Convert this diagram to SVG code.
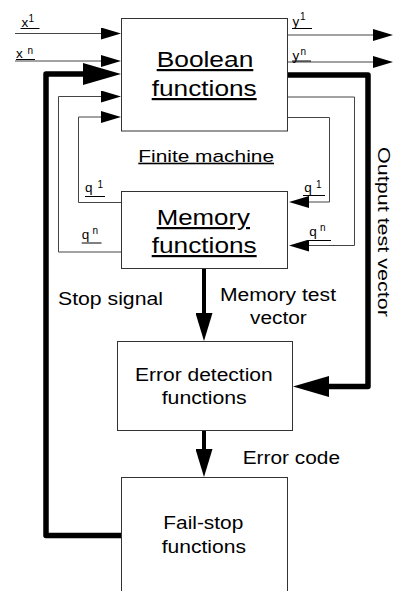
<svg xmlns="http://www.w3.org/2000/svg" width="393" height="591" viewBox="0 0 393 591">
<style>
.box{fill:#fff;stroke:#333;stroke-width:1}
.thin{fill:none;stroke:#444;stroke-width:1}
.thick{fill:none;stroke:#000;stroke-width:5.5;stroke-linejoin:round;stroke-linecap:round}
.med{fill:none;stroke:#000;stroke-width:4}
.ul{stroke:#000;stroke-width:1}
text{font-family:"Liberation Sans",Arial,Helvetica,sans-serif;fill:#000}
.big{font-size:22px;text-decoration:underline}
.mid{font-size:17.5px}
.lab{font-size:13.5px}
.sup{font-size:10px}
</style>
<defs>
<marker id="aThin" markerUnits="userSpaceOnUse" markerWidth="20" markerHeight="12" refX="0" refY="6" orient="auto"><path d="M0,0 L20,6 L0,12 Z" fill="#000"/></marker>
<marker id="aBig" markerUnits="userSpaceOnUse" markerWidth="38" markerHeight="22" refX="0" refY="11" orient="auto"><path d="M0,0 L38,11 L0,22 Z" fill="#000"/></marker>
<marker id="aRight" markerUnits="userSpaceOnUse" markerWidth="36" markerHeight="21" refX="0" refY="10.5" orient="auto"><path d="M0,0 L36,10.5 L0,21 Z" fill="#000"/></marker>
<marker id="aMid" markerUnits="userSpaceOnUse" markerWidth="28" markerHeight="17" refX="0" refY="8.5" orient="auto"><path d="M0,0 L28,8.5 L0,17 Z" fill="#000"/></marker>
</defs>
<rect width="393" height="591" fill="#fff"/>

<g id="connectors">
  <path class="thin" d="M15,33.5 H101" marker-end="url(#aThin)"/>
  <path class="thin" d="M15,61 H101" marker-end="url(#aThin)"/>
  <path class="thin" d="M121.5,202.5 H78.5 V117 H101" marker-end="url(#aThin)"/>
  <path class="thin" d="M121.5,252 H58.5 V96.5 H101" marker-end="url(#aThin)"/>
  <path class="thin" d="M287.5,35 H373" marker-end="url(#aThin)"/>
  <path class="thin" d="M287.5,62 H373" marker-end="url(#aThin)"/>
  <path class="thin" d="M287.5,117.5 H329.5 V202 H309" marker-end="url(#aThin)"/>
  <path class="thin" d="M287.5,97 H354.5 V245.5 H309" marker-end="url(#aThin)"/>
  <path class="thick" d="M121,535.5 H46 V74 H83" marker-end="url(#aBig)"/>
  <path class="thick" d="M288,75 H368 V386.5 H329" marker-end="url(#aRight)"/>
  <path class="med" d="M204,268.5 V313" marker-end="url(#aMid)"/>
  <path class="med" d="M204,430.5 V449" marker-end="url(#aMid)"/>

  <g id="labels">
    <text class="lab" x="21.5" y="26.7">x</text><text class="sup" x="28.5" y="22">1</text>
    <line class="ul" x1="20.5" y1="28.5" x2="39.5" y2="28.5"/>
    <text class="lab" x="16" y="58">x</text><text class="sup" x="27.5" y="54">n</text>
    <line class="ul" x1="16" y1="59.5" x2="35" y2="59.5"/>
    <text class="lab" x="292.5" y="25.5">y</text><text class="sup" x="300" y="20">1</text>
    <line class="ul" x1="292" y1="28.5" x2="312" y2="28.5"/>
    <text class="lab" x="292.5" y="59.5">y</text><text class="sup" x="300.5" y="55">n</text>
    <line class="ul" x1="292" y1="61" x2="311" y2="61"/>
    <text class="lab" x="85" y="192">q</text><text class="sup" x="97.5" y="188">1</text>
    <line class="ul" x1="85" y1="196.5" x2="105" y2="196.5"/>
    <text class="lab" x="81.7" y="238.5">q</text><text class="sup" x="92.5" y="233.5">n</text>
    <line class="ul" x1="81.7" y1="243" x2="101.5" y2="243"/>
    <text class="lab" x="304.3" y="192">q</text><text class="sup" x="316" y="188">1</text>
    <line class="ul" x1="303" y1="195.5" x2="325" y2="195.5"/>
    <text class="lab" x="309.3" y="235.5">q</text><text class="sup" x="320" y="231">n</text>
    <line class="ul" x1="309" y1="240.5" x2="331" y2="240.5"/>
    <text class="mid" x="58" y="305" textLength="105" lengthAdjust="spacingAndGlyphs">Stop signal</text>
    <text class="mid" x="220" y="300.7" textLength="116" lengthAdjust="spacingAndGlyphs">Memory test</text>
    <text class="mid" x="250" y="324" textLength="56.7" lengthAdjust="spacingAndGlyphs">vector</text>
    <text class="mid" x="242.7" y="464" textLength="97.3" lengthAdjust="spacingAndGlyphs">Error code</text>
    <text transform="translate(377.5,147) rotate(90)" x="0" y="0" style="font-size:17px" textLength="170" lengthAdjust="spacingAndGlyphs">Output test vector</text>
    <text x="138.3" y="161.7" style="font-size:16px;text-decoration:underline" textLength="135.7" lengthAdjust="spacingAndGlyphs">Finite machine</text>
  </g>
</g>

<g id="boolean">
  <rect class="box" x="121.5" y="18.5" width="166" height="112.5"/>
  <text class="big" x="156.7" y="67" textLength="96.6" lengthAdjust="spacingAndGlyphs">Boolean</text>
  <text class="big" x="151.7" y="96" textLength="105" lengthAdjust="spacingAndGlyphs">functions</text>
</g>
<g id="memory">
  <rect class="box" x="121.5" y="191.5" width="166" height="77"/>
  <text class="big" x="156.7" y="225" textLength="93.3" lengthAdjust="spacingAndGlyphs">Memory</text>
  <text class="big" x="151.7" y="253" textLength="105" lengthAdjust="spacingAndGlyphs">functions</text>
</g>
<g id="error">
  <rect class="box" x="117.5" y="341.5" width="175" height="89"/>
  <text class="mid" x="135" y="380.7" textLength="137.7" lengthAdjust="spacingAndGlyphs">Error detection</text>
  <text class="mid" x="161.7" y="404" textLength="85" lengthAdjust="spacingAndGlyphs">functions</text>
</g>
<g id="failstop">
  <rect class="box" x="121.5" y="477.5" width="166" height="130"/>
  <text class="mid" x="163.3" y="529.3" textLength="80" lengthAdjust="spacingAndGlyphs">Fail-stop</text>
  <text class="mid" x="161.7" y="552.7" textLength="84.3" lengthAdjust="spacingAndGlyphs">functions</text>
</g>
</svg>
